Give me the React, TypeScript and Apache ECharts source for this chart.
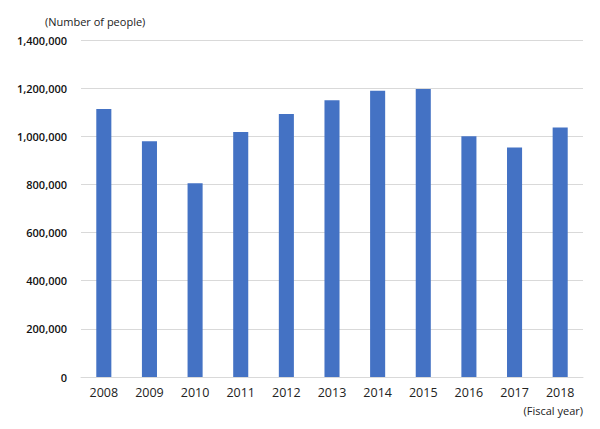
import React, { useEffect, useRef } from "react";
import * as echarts from "echarts";

const years = ["2008", "2009", "2010", "2011", "2012", "2013", "2014", "2015", "2016", "2017", "2018"];
const people = [1113000, 979000, 805000, 1018000, 1093000, 1150000, 1189000, 1196000, 1000000, 953000, 1037000];
const yUnitLabel = "(Number of people)";
const xUnitLabel = "(Fiscal year)";

const FONT = "'Open Sans', 'Noto Sans', sans-serif";

export default function App() {
  const ref = useRef<HTMLDivElement>(null);
  useEffect(() => {
    if (!ref.current) return;
    const chart = echarts.init(ref.current, undefined, { renderer: "svg" });
    chart.setOption({
      animation: false,
      backgroundColor: "#ffffff",
      grid: { left: 81, right: 17, top: 40, bottom: 52, containLabel: false },
      xAxis: {
        type: "category",
        data: years,
        axisLine: { show: true, lineStyle: { color: "#d9d9d9", width: 1 } },
        axisTick: { show: false },
        axisLabel: { color: "#222", fontSize: 12.5, fontFamily: FONT, margin: 9 },
      },
      yAxis: {
        type: "value",
        min: 0,
        max: 1400000,
        interval: 200000,
        axisLine: { show: false },
        axisTick: { show: false },
        splitLine: { lineStyle: { color: "#d9d9d9", width: 1 } },
        axisLabel: {
          color: "#111",
          fontSize: 11,
          fontWeight: 600,
          fontFamily: FONT,
          margin: 14,
          formatter: (v: number) => v.toLocaleString("en-US"),
        },
      },
      series: [
        {
          type: "bar",
          data: people,
          barWidth: "33%",
          itemStyle: { color: "#4472C4" },
        },
      ],
      graphic: [
        {
          type: "text",
          left: 45,
          top: 16,
          style: { text: yUnitLabel, fontSize: 11, fontFamily: FONT, fill: "#222" },
        },
        {
          type: "text",
          right: 17,
          top: 405,
          style: { text: xUnitLabel, fontSize: 11, fontFamily: FONT, fill: "#222" },
        },
      ],
    });
    return () => chart.dispose();
  }, []);
  return (
    <div
      ref={ref}
      style={{ position: "fixed", left: 0, top: 0, width: 600, height: 429 }}
    />
  );
}
